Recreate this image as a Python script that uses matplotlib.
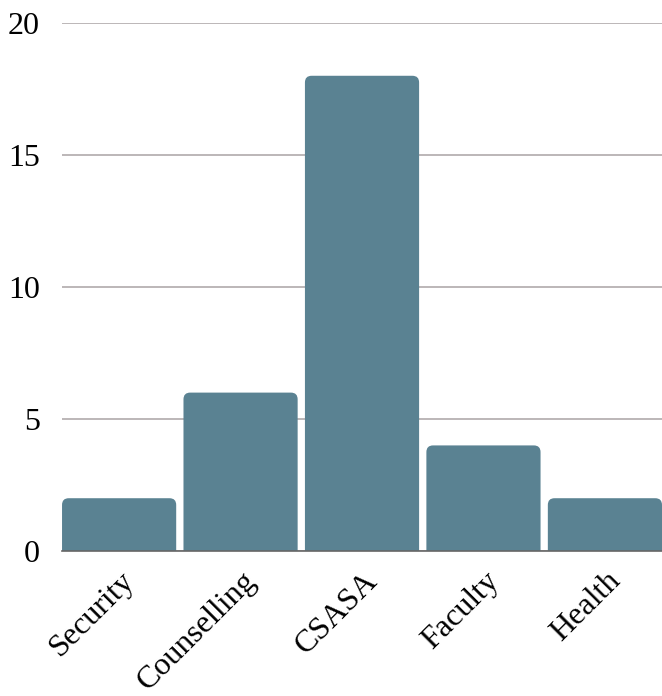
import matplotlib
matplotlib.use('Agg')
import matplotlib.pyplot as plt
from matplotlib.patches import FancyBboxPatch
import matplotlib.transforms as mtransforms
import numpy as np

categories = ['Security', 'Counselling', 'CSASA', 'Faculty', 'Health']
counts = [2, 6, 18, 4, 2]
yticks = [0, 5, 10, 15, 20]

bar_color = '#5a8292'

plt.rcParams['font.family'] = ['Liberation Serif', 'DejaVu Serif']

fig = plt.figure(figsize=(6.62, 6.96), dpi=100)
ax = fig.add_axes([0.0937, 0.2083, 0.9063, 0.7587])

x = np.arange(len(categories))
width = 0.94
bars = ax.bar(x, counts, width, color=bar_color, zorder=2)

# swap plain bars for ones with rounded top corners
aspect = (20 / 528) / ((len(categories) - 0.06) / 600)
for b in bars:
    b.set_visible(False)
    p = FancyBboxPatch((b.get_x(), -1), b.get_width(), b.get_height() + 1,
                       boxstyle='round,pad=0,rounding_size=0.055',
                       mutation_aspect=aspect, facecolor=bar_color,
                       edgecolor='none', zorder=2)
    ax.add_patch(p)

ax.set_xlim(-0.47, len(categories) - 0.53)
ax.set_ylim(0, 20)
ax.set_yticks(yticks)
ax.set_yticklabels([str(v) for v in yticks], fontsize=23)
ax.yaxis.grid(True, color='#b0aaab', linewidth=1.2, zorder=0)
ax.tick_params(axis='y', length=0, pad=16)
ax.tick_params(axis='x', length=0, pad=11)

for s in ['top', 'right', 'left']:
    ax.spines[s].set_visible(False)
ax.spines['bottom'].set_color('#666666')
ax.spines['bottom'].set_linewidth(1.2)
ax.spines['bottom'].set_zorder(3)

ax.set_xticks(x)
ax.set_xticklabels(categories, fontsize=23, rotation=45, ha='right',
                   va='top', rotation_mode='anchor')
offset = mtransforms.ScaledTranslation(0.01, 0, fig.dpi_scale_trans)
for lab in ax.get_xticklabels():
    lab.set_transform(lab.get_transform() + offset)

fig.savefig('out.png', dpi=100)
